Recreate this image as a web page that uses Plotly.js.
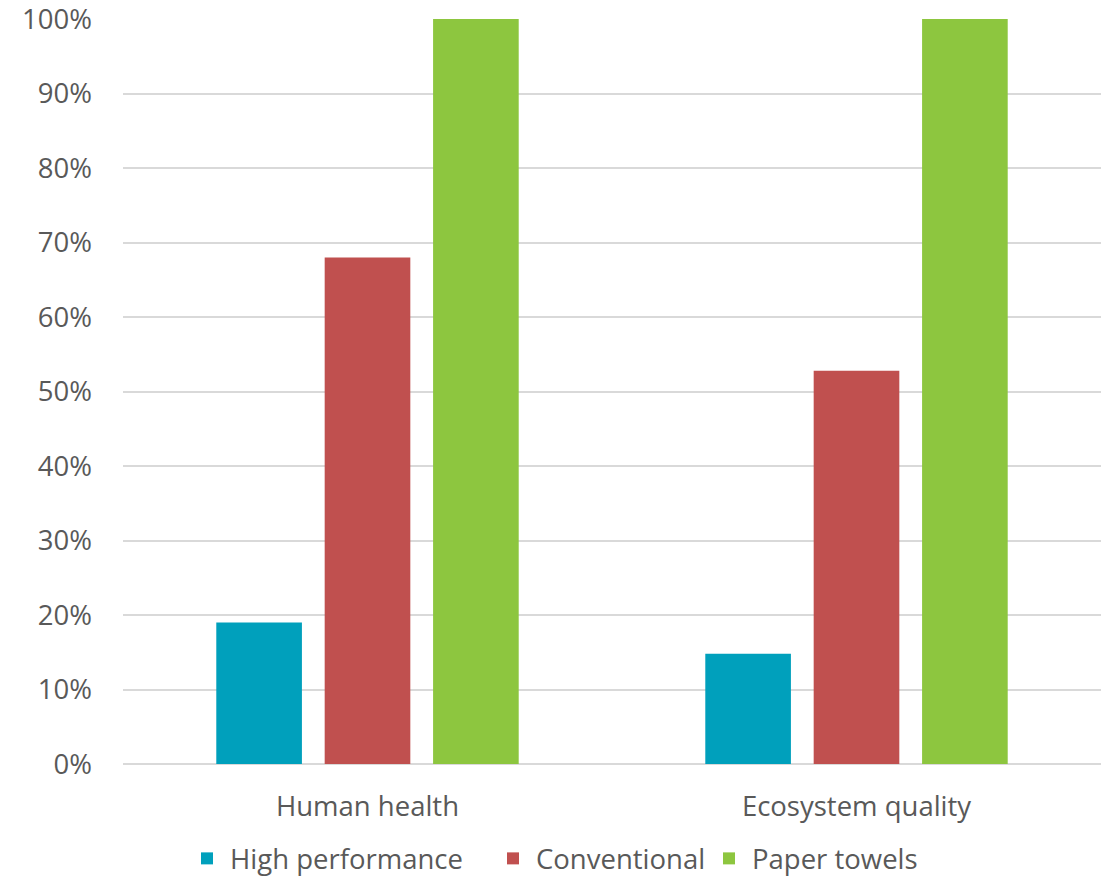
<!DOCTYPE html>
<html>
<head>
<meta charset="utf-8">
<script src="https://cdn.plot.ly/plotly-3.0.1.min.js"></script>
<style>html,body{margin:0;padding:0;background:#fff;}#chart{width:1101px;height:883px;}</style>
</head>
<body>
<div id="chart"></div>
<script>
const categories = ["Human health", "Ecosystem quality"];
const seriesNames = ["High performance", "Conventional", "Paper towels"];
const highPerformance = [0.19, 0.148];
const conventional = [0.68, 0.528];
const paperTowels = [1.0, 1.0];
const colors = ["#00A0BC", "#C0504F", "#8DC63F"];
const tickVals = [0, 0.1, 0.2, 0.3, 0.4, 0.5, 0.6, 0.7, 0.8, 0.9, 1.0];
const tickText = ["0%", "10%", "20%", "30%", "40%", "50%", "60%", "70%", "80%", "90%", "100%"];

const legendIds = ["legend", "legend2", "legend3"];
const legendX = [184 / 1101, 490 / 1101, 706 / 1101];

const series = [highPerformance, conventional, paperTowels];
const traces = series.map((vals, i) => ({
  type: "bar",
  name: seriesNames[i],
  x: categories,
  y: vals,
  legend: legendIds[i],
  marker: {color: colors[i], line: {width: 0}},
  hoverinfo: "none"
}));

const legendBase = (x) => ({
  orientation: "h", xref: "container", yref: "container",
  x: x, xanchor: "left", y: -3 / 883, yanchor: "bottom",
  font: {size: 27.5, color: "#595959", family: "Open Sans, sans-serif"},
  itemwidth: 36, bgcolor: "rgba(0,0,0,0)", borderwidth: 0
});

const layout = {
  width: 1101, height: 883,
  margin: {l: 123, r: 0, t: 19, b: 119},
  paper_bgcolor: "#fff", plot_bgcolor: "#fff",
  font: {family: "Open Sans, sans-serif", color: "#595959", size: 27.5},
  barmode: "group",
  bargap: 0.335,
  bargroupgap: 0.21,
  xaxis: {
    showgrid: false, showline: false, zeroline: false, ticks: "",
    automargin: false,
    tickfont: {size: 27.5, color: "#595959"},
    ticklabelstandoff: 23
  },
  yaxis: {
    range: [0, 1.0], tickvals: tickVals, ticktext: tickText,
    automargin: false, ticklabeloverflow: "allow",
    showgrid: true, gridcolor: "#D9D9D9", gridwidth: 2,
    zeroline: true, zerolinecolor: "#D9D9D9", zerolinewidth: 2,
    showline: false, ticks: "", ticklen: 0,
    tickfont: {size: 27.5, color: "#595959"},
    ticklabelstandoff: 30
  },
  showlegend: true,
  legend: legendBase(legendX[0]),
  legend2: legendBase(legendX[1]),
  legend3: legendBase(legendX[2])
};

Plotly.newPlot("chart", traces, layout, {displayModeBar: false, staticPlot: true});
</script>
</body>
</html>
